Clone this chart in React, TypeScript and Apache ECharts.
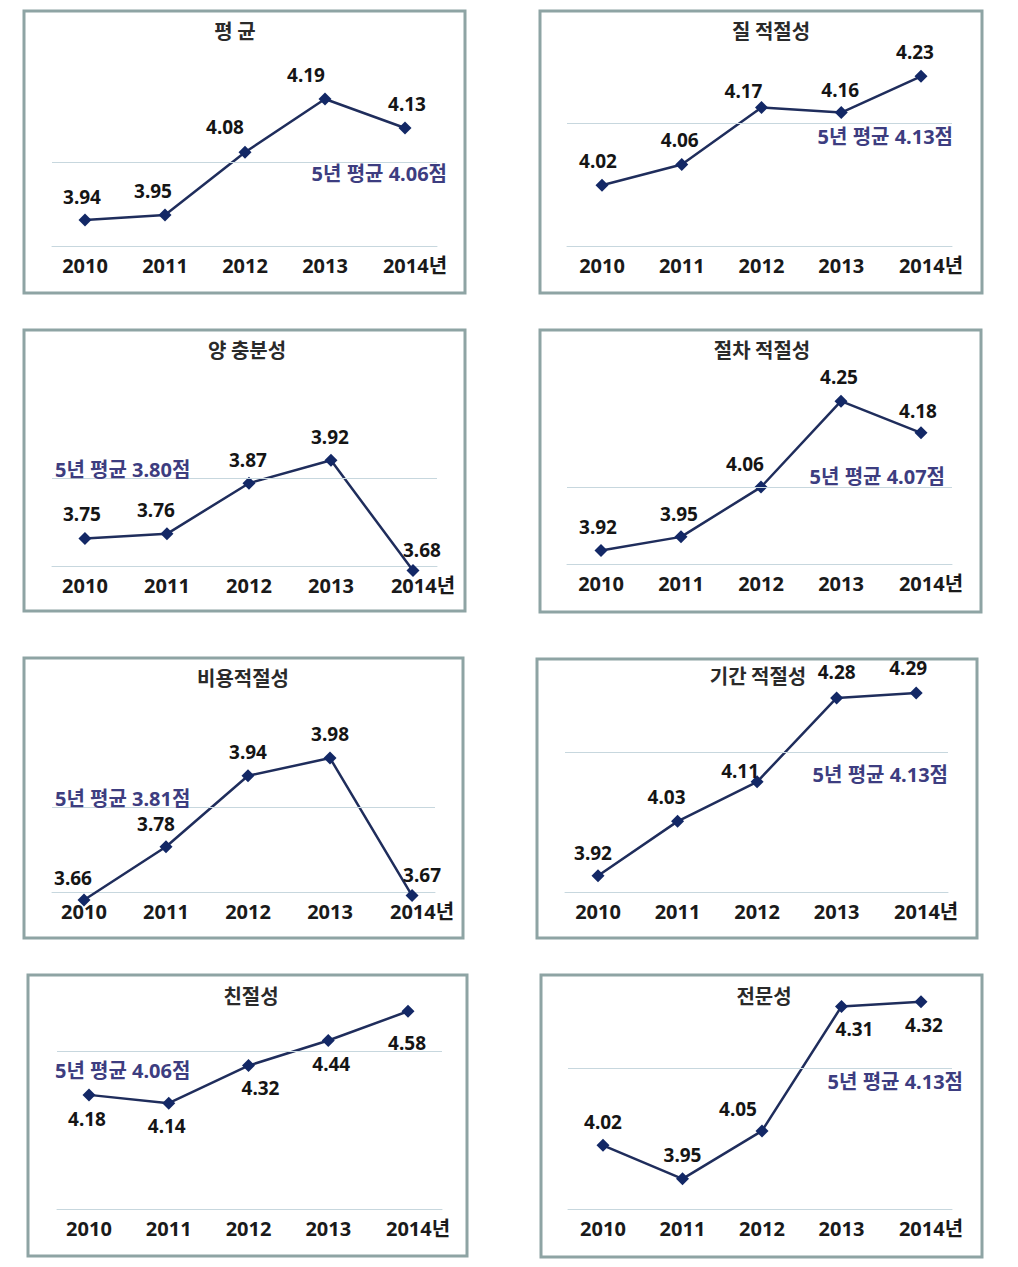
import React, { useEffect, useRef } from "react";
import * as echarts from "echarts";

// ---------- data ----------
const years = [2010, 2011, 2012, 2013, 2014];
const titles = ["평 균", "질 적절성", "양 충분성", "절차 적절성", "비용적절성", "기간 적절성", "친절성", "전문성"];

const meanScores = [3.94, 3.95, 4.08, 4.19, 4.13];
const qualityScores = [4.02, 4.06, 4.17, 4.16, 4.23];
const quantityScores = [3.75, 3.76, 3.87, 3.92, 3.68];
const procedureScores = [3.92, 3.95, 4.06, 4.25, 4.18];
const costScores = [3.66, 3.78, 3.94, 3.98, 3.67];
const periodScores = [3.92, 4.03, 4.11, 4.28, 4.29];
const kindnessScores = [4.18, 4.14, 4.32, 4.44, 4.58];
const expertiseScores = [4.02, 3.95, 4.05, 4.31, 4.32];

const seriesValues = [
  meanScores,
  qualityScores,
  quantityScores,
  procedureScores,
  costScores,
  periodScores,
  kindnessScores,
  expertiseScores,
];

// printed 5-year averages
const fiveYearAverages = [4.06, 4.13, 3.8, 4.07, 3.81, 4.13, 4.06, 4.13];
// level on each panel's value scale where the average line is drawn
const avgLineLevel = [4.06, 4.14, 3.877, 4.056, 3.87, 4.173, 4.395, 4.181];

// ---------- layout ----------
type Panel = {
  box: [number, number, number, number];
  title: [number, number];
  grid: [number, number, number, number];
  xr: [number, number];
  yr: [number, number];
  offsets: [number, number][];
  avgPos: string;
  avgDist: [number, number];
};

const panels: Panel[] = [
  {
    box: [24, 11, 441, 282], title: [235, 30], grid: [52, 41, 385, 205],
    xr: [2009.5875, 2014.4], yr: [3.886, 4.31],
    offsets: [[-3, -23], [-12, -24], [-20, -25], [-19, -24], [2, -24]],
    avgPos: "insideEndBottom", avgDist: [-10, 2],
  },
  {
    box: [540, 11, 442, 282], title: [771, 30], grid: [567, 41, 385, 205],
    xr: [2009.561, 2014.389], yr: [3.903, 4.298],
    offsets: [[-4, -24], [-2, -25], [-18, -16], [-1, -23], [-6, -24]],
    avgPos: "insideEndBottom", avgDist: [-1, 3],
  },
  {
    box: [24, 330, 441, 281], title: [247, 349], grid: [52, 360, 385, 206],
    xr: [2009.598, 2014.293], yr: [3.69, 4.138],
    offsets: [[-3, -24], [-11, -24], [-1, -23], [-1, -23], [9, -21]],
    avgPos: "insideStartTop", avgDist: [3, -1],
  },
  {
    box: [540, 330, 441, 282], title: [762, 349], grid: [567, 360, 385, 204],
    xr: [2009.575, 2014.3875], yr: [3.89, 4.341],
    offsets: [[-3, -23], [-2, -23], [-16, -23], [-2, -24], [-3, -22]],
    avgPos: "insideEndTop", avgDist: [7, 1],
  },
  {
    box: [24, 658, 439, 280], title: [243, 677], grid: [52, 688, 383, 204],
    xr: [2009.61, 2014.28], yr: [3.678, 4.138],
    offsets: [[-11, -22], [-10, -23], [0, -24], [0, -24], [10, -21]],
    avgPos: "insideStartTop", avgDist: [3, -2],
  },
  {
    box: [537, 659, 440, 279], title: [758, 675], grid: [565, 689, 383, 203],
    xr: [2009.585, 2014.4], yr: [3.887, 4.298],
    offsets: [[-5, -23], [-11, -24], [-17, -11], [0, -26], [-8, -25]],
    avgPos: "insideEndBottom", avgDist: [0, 12],
  },
  {
    box: [28, 975, 439, 281], title: [251, 995], grid: [57, 1005, 385, 204],
    xr: [2009.599, 2014.426], yr: [3.634, 4.61],
    offsets: [[-2, 24], [-2, 23], [12, 22], [3, 23], [-1, 32]],
    avgPos: "insideStartBottom", avgDist: [-2, 10],
  },
  {
    box: [541, 975, 441, 282], title: [764, 995], grid: [568, 1005, 384, 204],
    xr: [2009.56, 2014.39], yr: [3.887, 4.313],
    offsets: [[0, -23], [0, -24], [-24, -22], [13, 23], [3, 23]],
    avgPos: "insideEndBottom", avgDist: [-11, 3],
  },
];

const FONT = "'Noto Sans', 'Noto Sans CJK KR', sans-serif";
const KFONT = "'Noto Sans CJK KR', 'Noto Sans', sans-serif";
const GRIDLINE = "#c7d7de";
const BORDER = "#8ea4a4";
const LINE = "#1f2d5c";
const MARKER = "#132866";
const AVG_TEXT = "#3d3d80";

function buildOption() {
  const graphic: any[] = [];
  panels.forEach((p, i) => {
    graphic.push({
      type: "rect",
      silent: true,
      shape: { x: p.box[0], y: p.box[1], width: p.box[2], height: p.box[3] },
      style: { fill: "none", stroke: BORDER, lineWidth: 3 },
      z: 0,
    });
    graphic.push({
      type: "text",
      silent: true,
      x: p.title[0],
      y: p.title[1],
      style: {
        text: titles[i],
        fontSize: 20,
        fontFamily: KFONT,
        fontWeight: "bold",
        fill: "#2a2a2a",
        align: "center",
        verticalAlign: "middle",
      },
      z: 10,
    });
  });

  return {
    animation: false,
    backgroundColor: "#ffffff",
    graphic,
    grid: panels.map((p) => ({
      left: p.grid[0],
      top: p.grid[1],
      width: p.grid[2],
      height: p.grid[3],
      containLabel: false,
    })),
    xAxis: panels.map((p, i) => ({
      type: "value",
      gridIndex: i,
      min: p.xr[0],
      max: p.xr[1],
      axisLine: { show: true, onZero: false, lineStyle: { color: GRIDLINE, width: 1 } },
      axisTick: { show: false },
      splitLine: { show: false },
      axisLabel: {
        show: true,
        customValues: years,
        margin: 9,
        fontFamily: FONT,
        fontSize: 20,
        fontWeight: "bold",
        color: "#1a1a1a",
        formatter: (v: number) => (v === years[years.length - 1] ? `{p|}${v}년` : String(v)),
        rich: { p: { width: 20 } },
      },
    })),
    yAxis: panels.map((p, i) => ({
      type: "value",
      gridIndex: i,
      min: p.yr[0],
      max: p.yr[1],
      show: false,
      splitLine: { show: false },
    })),
    series: panels.map((p, i) => ({
      type: "line",
      xAxisIndex: i,
      yAxisIndex: i,
      clip: false,
      symbol: "diamond",
      symbolSize: 13,
      lineStyle: { color: LINE, width: 2.5 },
      itemStyle: { color: MARKER },
      emphasis: { disabled: true },
      data: seriesValues[i].map((v, j) => ({
        value: [years[j], v],
        label: { offset: p.offsets[j] },
      })),
      label: {
        show: true,
        position: "inside",
        fontFamily: FONT,
        fontSize: 19,
        fontWeight: "bold",
        color: "#151515",
        formatter: (prm: any) => prm.value[1].toFixed(2),
      },
      markLine: {
        silent: true,
        symbol: "none",
        animation: false,
        lineStyle: { color: GRIDLINE, width: 1, type: "solid" },
        emphasis: { disabled: true },
        data: [
          {
            yAxis: avgLineLevel[i],
            label: {
              show: true,
              position: p.avgPos,
              distance: p.avgDist,
              formatter: `5년 평균 ${fiveYearAverages[i].toFixed(2)}점`,
              fontFamily: FONT,
              fontSize: 20,
              fontWeight: "bold",
              color: AVG_TEXT,
            },
          },
        ],
      },
    })),
  };
}

export default function App() {
  const ref = useRef<HTMLDivElement>(null);
  useEffect(() => {
    if (!ref.current) return;
    const chart = echarts.init(ref.current, undefined, { renderer: "svg" });
    chart.setOption(buildOption() as any);
    return () => chart.dispose();
  }, []);
  return (
    <div
      ref={ref}
      style={{ position: "absolute", left: 0, top: 0, width: 1018, height: 1267, background: "#fff" }}
    />
  );
}
